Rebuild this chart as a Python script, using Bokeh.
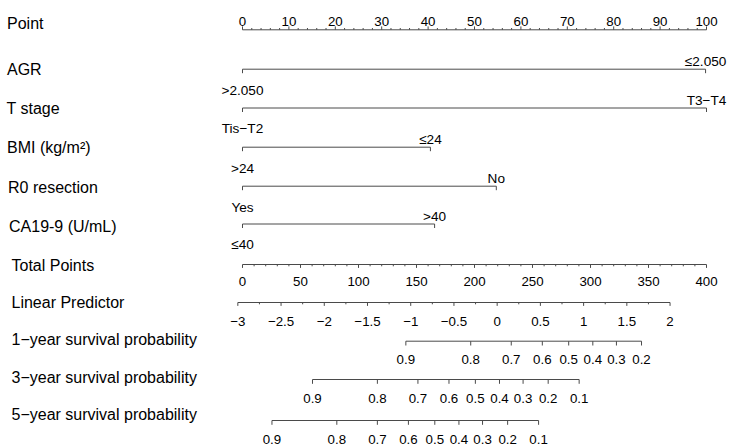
import math
import numpy as np
from bokeh.plotting import figure
from bokeh.models import Range1d, ColumnDataSource
from bokeh.core.properties import value
from bokeh.embed import file_html
from bokeh.resources import INLINE

# ---------------- data ----------------
point_ticks = [0, 10, 20, 30, 40, 50, 60, 70, 80, 90, 100]
point_minor_step = 2

var_names = ["AGR", "T stage", "BMI (kg/m²)", "R0 resection", "CA19-9 (U/mL)"]
var_levels = [[">2.050", "≤2.050"], ["Tis−T2", "T3−T4"], [">24", "≤24"],
              ["Yes", "No"], ["≤40", ">40"]]
var_points = [[0, 99.8], [0, 100], [0, 40.5], [0, 54.7], [0, 41.4]]

total_ticks = [0, 50, 100, 150, 200, 250, 300, 350, 400]
total_minor_step = 10

lp_ticks = [-3, -2.5, -2, -1.5, -1, -0.5, 0, 0.5, 1, 1.5, 2]
lp_minor_step = 0.25
lp_at_zero_points = -2.946      # linear predictor when total points = 0
lp_per_point = 0.013419         # linear predictor per total point

surv_names = ["1−year survival probability", "3−year survival probability",
              "5−year survival probability"]
surv_ticks = [[0.9, 0.8, 0.7, 0.6, 0.5, 0.4, 0.3, 0.2],
              [0.9, 0.8, 0.7, 0.6, 0.5, 0.4, 0.3, 0.2, 0.1],
              [0.9, 0.8, 0.7, 0.6, 0.5, 0.4, 0.3, 0.2, 0.1]]
baseline_cum_hazard = [0.303, 0.892, 1.426]   # S(t) = exp(-H0 * exp(lp))

# ---------------- layout ----------------
W, H = 736, 447
OFF = 0
PX0, PX100 = 242.0, 706.0          # page px of 0 and 100 points
PPU = (PX100 - PX0) / 100.0


def px_to_x(px):
    return (px - PX0) / PPU


def x_total(tp):
    return tp * 100.0 / total_ticks[-1]


def x_lp(lp):
    return x_total((lp - lp_at_zero_points) / lp_per_point)


def lp_of_surv(s, h0):
    return math.log(-math.log(s)) - math.log(h0)


def fmt(v):
    s = f"{v:g}"
    return s.replace("-", "−")


p = figure(width=W, height=H, x_range=Range1d(px_to_x(OFF), px_to_x(OFF + W)),
           y_range=Range1d(OFF + H, OFF), toolbar_location=None, output_backend="svg",
           x_axis_type=None, y_axis_type=None, min_border=0)
p.grid.visible = False
p.outline_line_color = None
p.background_fill_color = "white"

LINE = "#4a4a4a"
FONT = value("Liberation Sans")

segs = dict(x0=[], y0=[], x1=[], y1=[])


def seg(x0, y0, x1, y1):
    segs["x0"].append(x0); segs["y0"].append(y0)
    segs["x1"].append(x1); segs["y1"].append(y1)


texts = {}


def txt(key, x, y, t):
    d = texts.setdefault(key, dict(x=[], y=[], t=[]))
    d["x"].append(x); d["y"].append(y); d["t"].append(t)


# Row positions (page px)
point_y = 29.3
var_y = [68.7, 107.5, 146.7, 185.7, 223.5]
total_y = 264.0
lp_y = 302.0
surv_y = [340.7, 379.0, 420.0]

label_rows = (["Point"] + var_names + ["Total Points", "Linear Predictor"] + surv_names)
label_cy = [22.8, 69.2, 108.3, 147.3, 187.0, 226.3, 265.3, 302.0, 339.3, 376.7, 413.7]
label_px = [6.5, 6.5, 6.0, 6.5, 7.5, 8.5, 11.0, 11.0, 11.0, 11.0, 11.0]
for name, cy, lx in zip(label_rows, label_cy, label_px):
    txt("row", px_to_x(lx), cy, name)

# Point axis (top, ticks up, labels above)
seg(point_ticks[0], point_y, point_ticks[-1], point_y)
for v in np.arange(point_ticks[0], point_ticks[-1] + 1e-9, point_minor_step):
    major = any(abs(v - t) < 1e-9 for t in point_ticks)
    seg(v, point_y, v, point_y - (3.4 if major else 1.8))
for t in point_ticks:
    txt("tick", t, 20.7, fmt(t))

# Variables
for yl, levels, pts in zip(var_y, var_levels, var_points):
    seg(min(pts), yl, max(pts), yl)
    for i, (lev, pt) in enumerate(zip(levels, pts)):
        seg(pt, yl, pt, yl + 4)
        if i % 2 == 0:
            txt("level", pt, yl + 20.8, lev)
        else:
            txt("level", pt, yl - 8.0, lev)

# Total points axis
seg(x_total(total_ticks[0]), total_y, x_total(total_ticks[-1]), total_y)
for v in np.arange(total_ticks[0], total_ticks[-1] + 1e-9, total_minor_step):
    major = any(abs(v - t) < 1e-9 for t in total_ticks)
    seg(x_total(v), total_y, x_total(v), total_y + (3.4 if major else 1.8))
for t in total_ticks:
    txt("tick", x_total(t), total_y + 16.8, fmt(t))

# Linear predictor axis
seg(x_lp(lp_ticks[0]), lp_y, x_lp(lp_ticks[-1]), lp_y)
for v in np.arange(lp_ticks[0], lp_ticks[-1] + 1e-9, lp_minor_step):
    major = any(abs(v - t) < 1e-9 for t in lp_ticks)
    seg(x_lp(v), lp_y, x_lp(v), lp_y + (3.4 if major else 1.8))
for t in lp_ticks:
    txt("tick", x_lp(t), lp_y + 19.3, fmt(t))

# Survival axes
for sy, ticks, h0 in zip(surv_y, surv_ticks, baseline_cum_hazard):
    xs = [x_lp(lp_of_surv(s, h0)) for s in ticks]
    seg(min(xs), sy, max(xs), sy)
    for xv, s in zip(xs, ticks):
        seg(xv, sy, xv, sy + 4.3)
        txt("tick", xv, sy + 18.6, fmt(s))

p.segment(x0="x0", y0="y0", x1="x1", y1="y1", source=ColumnDataSource(segs),
          line_color=LINE, line_width=1)

d = texts["row"]
p.text(x="x", y="y", text="t", source=ColumnDataSource(d), text_font=FONT,
       text_font_size="16px", text_align="left", text_baseline="middle",
       text_color="black")
d = texts["tick"]
p.text(x="x", y="y", text="t", source=ColumnDataSource(d), text_font=FONT,
       text_font_size="13.3px", text_align="center", text_baseline="alphabetic",
       text_color="black")
d = texts["level"]
p.text(x="x", y="y", text="t", source=ColumnDataSource(d), text_font=FONT,
       text_font_size="13.6px", text_align="center", text_baseline="alphabetic",
       text_color="black")

open("out.html", "w").write(file_html(p, INLINE))
